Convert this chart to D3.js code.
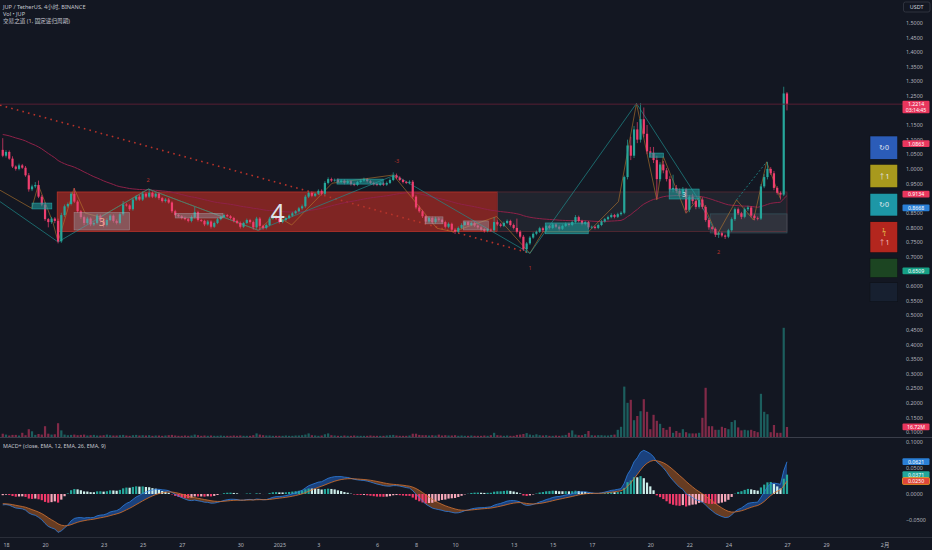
<!DOCTYPE html>
<html>
<head>
<meta charset="utf-8">
<script src="https://cdn.jsdelivr.net/npm/d3@7"></script>
<style>
html, body { margin: 0; padding: 0; background: #131722; }
svg { display: block; font-family: "Noto Sans", "Noto Sans CJK SC", sans-serif; }
</style>
</head>
<body>
<div id="chart"></div>
<script>
// 4h candles from 2024-12-17 20:00, prices in thousandths of USDT
const firstOpen = 1065;
const closes = [
  1045,1058,1035,1008,1000,1012,1004,978,930,940,
  945,905,878,828,818,830,822,752,842,872,
  880,915,888,855,835,815,830,810,815,840,
  822,808,825,840,822,815,845,878,875,862,
  895,905,895,915,905,918,905,915,900,890,
  895,885,855,842,838,832,828,822,835,852,
  825,822,810,820,802,815,828,835,842,838,
  832,822,815,802,815,825,818,800,830,805,
  798,808,830,838,830,818,825,832,840,848,
  855,865,872,905,918,908,915,925,915,952,
  965,960,963,955,960,952,958,948,945,955,
  960,965,958,952,948,945,950,946,952,962,
  978,970,962,955,952,956,905,868,855,838,
  820,832,818,830,826,818,802,812,792,785,
  798,808,818,808,815,806,800,793,788,792,
  790,818,810,805,815,822,808,798,785,768,
  725,745,765,778,785,797,790,805,798,810,
  802,795,805,812,808,818,835,822,812,818,
  800,802,798,808,820,828,835,842,836,845,
  850,972,1080,1045,1135,1100,1170,1120,1060,1055,
  1030,965,1015,995,965,930,935,925,915,930,
  860,905,890,870,895,870,825,800,795,775,
  780,772,768,790,828,862,848,836,862,868,
  840,832,830,940,972,1000,985,935,918,912,
  1258,1221
];
const upWick = [
  40,6,5,8,4,6,5,6,8,6,
  10,15,6,8,4,6,5,8,8,6,
  5,6,19,5,4,5,6,4,5,6,
  4,5,6,5,4,5,6,12,5,4,
  6,5,6,8,5,14,5,4,5,4,
  5,6,4,5,4,4,5,4,6,18,
  5,4,4,5,4,5,4,4,5,4,
  4,4,4,5,4,5,4,5,6,5,
  4,5,6,5,4,4,4,5,4,5,
  4,5,6,6,5,5,4,5,5,6,
  6,5,4,5,4,4,5,4,5,4,
  5,5,4,4,4,4,5,4,5,6,
  10,6,5,4,4,5,6,5,6,5,
  5,6,5,6,5,4,5,5,4,5,
  5,6,5,4,5,4,4,4,4,5,
  4,17,6,5,5,5,4,5,32,5,
  6,5,5,5,4,5,5,5,4,5,
  4,5,5,5,4,6,7,5,4,5,
  4,4,4,5,5,4,5,6,4,5,
  5,5,20,30,12,25,55,40,30,15,
  20,15,8,12,8,10,45,10,8,8,
  5,6,10,8,6,8,6,6,5,5,
  5,5,4,5,6,6,6,5,6,6,
  5,5,5,8,10,24,6,8,6,5,
  23,5
];
const downWick = [
  5,6,4,5,6,5,4,5,8,6,
  6,5,6,6,18,6,8,7,5,6,
  5,5,5,5,6,8,5,6,5,5,
  6,8,5,4,6,5,5,5,4,6,
  5,5,4,5,5,4,5,5,6,5,
  5,4,6,5,4,5,4,5,5,5,
  5,4,6,4,6,4,4,4,4,4,
  4,5,4,6,4,4,5,8,5,15,
  6,5,4,4,5,5,4,4,4,4,
  4,4,5,5,5,5,4,4,6,5,
  5,5,4,5,4,5,4,5,4,4,
  4,4,5,4,5,4,4,4,4,4,
  4,5,4,5,4,5,6,6,5,6,
  6,5,6,5,6,5,6,5,6,8,
  4,5,4,5,4,5,5,5,6,5,
  5,5,5,5,4,4,5,5,6,6,
  6,13,5,4,5,4,6,5,5,4,
  5,6,4,4,5,4,5,5,5,5,
  6,5,5,4,4,4,4,4,5,4,
  5,5,8,15,8,12,10,12,10,15,
  10,65,8,10,8,8,10,8,10,12,
  10,8,10,8,6,8,6,8,6,8,
  11,6,8,5,5,6,6,8,5,6,
  6,8,6,5,6,8,6,8,6,17,
  5,21
];
// volume in millions JUP
const volumes = [
  5.5,4,2.5,3.5,3.5,2.5,7,3,13,9.5,
  3.5,5,4,18,5.5,4,4.5,23,11,4,
  3,3.5,4,3,3.5,4,2.5,3,3.5,2.5,
  2.5,3,4,3,2.5,2.5,3,3.5,2.5,2,
  3,3.5,2.5,3,2.5,3,2,2.5,2.5,2,
  2.5,3,3.5,2.5,2,2,2.5,2,2.5,4,
  3,2,2.5,2,2.5,2,2,2.5,2,2,
  2,2.5,2,2.5,2,2,2,3,6,4,
  3,2.5,2.5,2,2,2,2,2.5,2,2,
  2.5,2.5,3,4,6,3,2.5,2,2.5,4.5,
  6,3,2.5,2,2,2.5,2,2,2.5,2,
  2,2,2,2.5,2,2,2,2,2.5,3,
  3.5,2.5,2,2,2,2.5,5.5,5.5,3.5,3,
  3,2.5,3,2.5,4,2.5,3,2.5,2.5,3,
  2,2.5,2,2,2.5,2,2,2,2.5,2,
  3,7,3,2.5,2,2.5,2,2,3.5,4,
  5,6.5,4,3,4.5,3,2.5,3,2,2,
  2.5,2,2.5,3.5,7,11,4,3,3,5,
  10,3,2.5,3,3,2.5,2.5,3.5,4,12,
  17,84,57,62,28,35,43,63,42,13,
  37,27,22,15,12,17,7,10,7,13,
  8,6,6,6,7,32,82,18,18,12,
  12,17,15,13,25,28,16,11,12,11,
  12,10,8,72,42,38,8,20,7,7,
  182,16.72
];

const maSeed = 1.12, maLength = 60;
const macdSeed = [1.075, 1.095, -0.018];

// zones: start, end, top, bottom
const zoneStart = ["2024-12-20 15:00", "2025-01-12 04:00", "2025-01-23 01:40"];
const zoneEnd   = ["2025-01-12 04:00", "2025-01-27 00:00", "2025-01-27 00:00"];
const zoneTop   = [0.921, 0.921, 0.846];
const zoneBot   = [0.786, 0.786, 0.781];
const zoneKind  = ["red", "grey", "inner"];

// consolidation boxes
const boxStart = ["2024-12-19 08:00","2024-12-21 11:40","2024-12-26 16:00","2025-01-03 22:50","2025-01-08 11:10","2025-01-10 10:00","2025-01-14 14:50","2025-01-19 22:50","2025-01-20 23:10"];
const boxEnd   = ["2024-12-20 08:20","2024-12-24 08:00","2024-12-29 02:40","2025-01-06 07:40","2025-01-09 09:10","2025-01-11 16:50","2025-01-16 19:40","2025-01-20 16:00","2025-01-22 12:00"];
const boxTop   = [0.883, 0.851, 0.848, 0.965, 0.836, 0.822, 0.815, 1.054, 0.931];
const boxBot   = [0.863, 0.791, 0.832, 0.948, 0.812, 0.791, 0.778, 1.040, 0.897];
const boxKind  = ["teal","grey","grey","teal","grey","grey","teal","teal","teal"];
const boxLabel = ["", "3", "", "", "", "", "", "", "3"];

// swing lines
const tealTime  = ["2024-12-17 16:40","2024-12-20 16:00","2024-12-25 07:00","2024-12-30 22:00","2025-01-06 22:00","2025-01-13 20:00","2025-01-19 07:00","2025-01-22 09:00","2025-01-23 10:00"];
const tealPrice = [0.888, 0.750, 0.931, 0.790, 0.979, 0.711, 1.224, 0.905, 0.774];
const tealDashTime  = ["2025-01-24 10:00", "2025-01-25 23:00"];
const tealDashPrice = [0.894, 1.024];
const orangeTime  = ["2024-12-17 16:40","2024-12-19 07:40","2024-12-19 15:40","2024-12-20 10:00","2024-12-20 16:00","2024-12-21 11:40","2024-12-22 01:10","2024-12-22 19:40","2024-12-24 04:20","2024-12-25 07:00","2024-12-30 22:00","2024-12-31 18:50","2025-01-01 15:10","2025-01-03 16:50","2025-01-06 20:00","2025-01-09 01:40","2025-01-09 21:40","2025-01-12 03:10","2025-01-13 20:00","2025-01-14 12:00","2025-01-16 20:00","2025-01-18 08:50","2025-01-19 07:00","2025-01-20 08:00","2025-01-20 16:00","2025-01-21 20:00","2025-01-22 13:00","2025-01-23 10:00","2025-01-24 10:00","2025-01-25 06:50","2025-01-25 23:00","2025-01-26 15:40"];
const orangePrice = [0.927,0.865,0.945,0.814,0.751,0.934,0.849,0.835,0.888,0.931,0.790,0.842,0.808,0.951,0.979,0.797,0.785,0.837,0.711,0.785,0.785,0.888,1.224,0.894,1.042,0.848,0.905,0.774,0.894,0.825,1.024,0.900];
const trendTime  = ["2024-12-17 16:40", "2025-01-13 20:00"];
const trendPrice = [1.218, 0.712];

// annotations
const noteText  = ["4", "2", "-3", "1", "2"];
const noteTime  = ["2024-12-31 22:00","2024-12-25 06:40","2025-01-07 00:20","2025-01-13 20:20","2025-01-23 12:00"];
const notePrice = [0.82, 0.956, 1.021, 0.653, 0.709];

// price scale
const priceTicks = [1.5,1.45,1.4,1.35,1.3,1.25,1.15,1.1,1.05,1.0,0.95,0.85,0.8,0.75,0.7,0.6,0.55,0.5,0.45,0.4,0.35,0.3,0.25,0.2,0.15,0.1];
const tagValue = [1.0863, 0.9134, 0.8668, 0.6509];
const tagColor = ["#e8365d", "#e8365d", "#2a7fd6", "#16a085"];
const lastPrice = 1.2214, countdown = "03:14:45", lastVolume = "16.72M";
const macdTicks = [0.1, 0.05, 0, -0.05];
const macdTagValue = [0.0621, 0.0371, 0.0250];
const timeTicks = ["2024-12-18","2024-12-20","2024-12-23","2024-12-25","2024-12-27","2024-12-30","2025-01-01","2025-01-03","2025-01-06","2025-01-08","2025-01-10","2025-01-13","2025-01-15","2025-01-17","2025-01-20","2025-01-22","2025-01-24","2025-01-27","2025-01-29","2025-02-01"];
const timeLabels = ["18","20","23","25","27","30","2025","3","6","8","10","13","15","17","20","22","24","27","29","2月"];

// status table on the right
const dashText  = ["↻0", "↑1", "↻0", "↑1", "", ""];
const dashColor = ["#2b5cb8", "#a8991d", "#1d97a6", "#b3261e", "#1c4522", "#172030"];

(function chart() {
  const width = 932, height = 550;
  const parse = d3.timeParse("%Y-%m-%d %H:%M");
  const t0 = parse("2024-12-17 20:00");
  const H4 = 4 * 3600 * 1000;
  const up = "#26a69a", down = "#ef3e6e";

  const svg = d3.select("#chart").append("svg")
    .attr("width", width).attr("height", height)
    .style("background", "#131722");

  const x = d3.scaleTime()
    .domain([parse("2024-12-18 00:00"), parse("2025-02-01 00:00")])
    .range([6, 884.6]);
  const y = d3.scaleLinear().domain([0.1, 1.5]).range([432, 22.7]);
  const yVol = d3.scaleLinear().domain([0, 200]).range([437, 317]);
  const yM = d3.scaleLinear().domain([-0.05, 0.1]).range([520, 442]);

  let prev = firstOpen;
  const candles = closes.map((c, k) => {
    const o = prev; prev = c;
    return {
      t: new Date(+t0 + k * H4), o: o / 1000, c: c / 1000,
      h: (Math.max(o, c) + upWick[k]) / 1000,
      l: (Math.min(o, c) - downWick[k]) / 1000,
      v: volumes[k]
    };
  });

  // EMA line and MACD
  let ma = maSeed;
  let e12 = macdSeed[0], e26 = macdSeed[1], sig = macdSeed[2];
  candles.forEach(d => {
    ma += (d.c - ma) * 2 / (maLength + 1);
    e12 += (d.c - e12) * 2 / 13;
    e26 += (d.c - e26) * 2 / 27;
    const m = e12 - e26;
    sig += (m - sig) * 0.2;
    d.ma = ma; d.macd = m; d.sig = sig; d.hist = m - sig;
  });

  const defs = svg.append("defs");
  defs.append("clipPath").attr("id", "mainClip")
    .append("rect").attr("x", 0).attr("y", 0).attr("width", 900).attr("height", 437);
  defs.append("clipPath").attr("id", "macdClip")
    .append("rect").attr("x", 0).attr("y", 438).attr("width", 900).attr("height", 99);

  const main = svg.append("g").attr("clip-path", "url(#mainClip)");

  // zones
  const zoneStyle = {
    red:   { fill: "rgba(205,48,36,0.58)", stroke: "#b8332a" },
    grey:  { fill: "rgba(120,123,134,0.13)", stroke: "#5a2a34" },
    inner: { fill: "rgba(120,123,134,0.18)", stroke: "#34505a" }
  };
  zoneStart.forEach((s, i) => {
    const st = zoneStyle[zoneKind[i]];
    main.append("rect")
      .attr("x", x(parse(s))).attr("y", y(zoneTop[i]))
      .attr("width", x(parse(zoneEnd[i])) - x(parse(s)))
      .attr("height", y(zoneBot[i]) - y(zoneTop[i]))
      .attr("fill", st.fill).attr("stroke", st.stroke).attr("stroke-width", 0.8);
  });

  // volume
  const bw = 2.2;
  main.append("g").selectAll("rect").data(candles).join("rect")
    .attr("x", d => x(d.t) - bw / 2)
    .attr("y", d => yVol(d.v))
    .attr("width", bw)
    .attr("height", d => yVol(0) - yVol(d.v))
    .attr("fill", d => d.c >= d.o ? "rgba(38,166,154,0.5)" : "rgba(239,62,110,0.5)");

  // trend line (dotted)
  main.append("path")
    .datum(trendTime.map((t, i) => [parse(t), trendPrice[i]]))
    .attr("d", d3.line().x(d => x(d[0])).y(d => y(d[1])))
    .attr("fill", "none").attr("stroke", "#b8332a")
    .attr("stroke-width", 1.6).attr("stroke-dasharray", "1.6,4.2");

  // EMA
  main.append("path").datum(candles)
    .attr("d", d3.line().x(d => x(d.t)).y(d => y(d.ma)))
    .attr("fill", "none").attr("stroke", "#8e2148").attr("stroke-width", 1);

  // swing lines
  const sw = d3.line().x(d => x(d[0])).y(d => y(d[1]));
  main.append("path")
    .datum(orangeTime.map((t, i) => [parse(t), orangePrice[i]]))
    .attr("d", sw).attr("fill", "none")
    .attr("stroke", "#b9782e").attr("stroke-opacity", 0.75).attr("stroke-width", 0.8);
  main.append("path")
    .datum(tealTime.map((t, i) => [parse(t), tealPrice[i]]))
    .attr("d", sw).attr("fill", "none")
    .attr("stroke", "#1f8f8f").attr("stroke-opacity", 0.85).attr("stroke-width", 0.8);
  main.append("path")
    .datum(tealDashTime.map((t, i) => [parse(t), tealDashPrice[i]]))
    .attr("d", sw).attr("fill", "none")
    .attr("stroke", "#1f8f8f").attr("stroke-width", 0.8).attr("stroke-dasharray", "2,2");

  // candles
  const cg = main.append("g");
  cg.selectAll("line").data(candles).join("line")
    .attr("x1", d => x(d.t)).attr("x2", d => x(d.t))
    .attr("y1", d => y(d.h)).attr("y2", d => y(d.l))
    .attr("stroke", d => d.c >= d.o ? up : down).attr("stroke-width", 0.7);
  cg.selectAll("rect").data(candles).join("rect")
    .attr("x", d => x(d.t) - bw / 2)
    .attr("y", d => y(Math.max(d.o, d.c)))
    .attr("width", bw)
    .attr("height", d => Math.max(0.7, Math.abs(y(d.o) - y(d.c))))
    .attr("fill", d => d.c >= d.o ? up : down);

  // boxes
  const boxStyle = {
    teal: { fill: "rgba(32,165,165,0.55)", stroke: "#27a9a9", text: "#d8eeee", size: 6.5 },
    grey: { fill: "rgba(150,152,165,0.42)", stroke: "rgba(180,180,190,0.55)", text: "#eea58c", size: 11 }
  };
  boxStart.forEach((s, i) => {
    const st = boxStyle[boxKind[i]];
    const x0 = x(parse(s)), x1 = x(parse(boxEnd[i]));
    const y0 = y(boxTop[i]), y1 = y(boxBot[i]);
    main.append("rect")
      .attr("x", x0).attr("y", y0).attr("width", x1 - x0).attr("height", y1 - y0)
      .attr("fill", st.fill).attr("stroke", st.stroke).attr("stroke-width", 0.6);
    if (boxLabel[i]) {
      main.append("text")
        .attr("x", (x0 + x1) / 2).attr("y", (y0 + y1) / 2)
        .attr("text-anchor", "middle").attr("dominant-baseline", "central")
        .attr("font-size", st.size).attr("fill", st.text)
        .text(boxLabel[i]);
    }
  });

  // annotations
  noteText.forEach((t, i) => {
    const big = i === 0;
    main.append("text")
      .attr("x", x(parse(noteTime[i]))).attr("y", y(notePrice[i]))
      .attr("text-anchor", "middle")
      .attr("font-size", big ? 25 : 5.5)
      .attr("fill", big ? "#dfe3ea" : "#b8332a")
      .text(t);
  });

  // last price line
  svg.append("line")
    .attr("x1", 0).attr("x2", 903)
    .attr("y1", y(lastPrice)).attr("y2", y(lastPrice))
    .attr("stroke", "#5e2036").attr("stroke-width", 0.9);

  // MACD pane
  const mg = svg.append("g").attr("clip-path", "url(#macdClip)");
  defs.append("clipPath").attr("id", "sigAbove").append("path")
    .datum(candles).attr("d", d3.area().x(d => x(d.t)).y0(438).y1(d => yM(d.sig)));
  defs.append("clipPath").attr("id", "sigBelow").append("path")
    .datum(candles).attr("d", d3.area().x(d => x(d.t)).y0(537).y1(d => yM(d.sig)));
  const band = d3.area().x(d => x(d.t)).y0(d => yM(d.sig)).y1(d => yM(d.macd));
  mg.append("path").datum(candles).attr("d", band)
    .attr("fill", "rgba(33,100,200,0.55)").attr("clip-path", "url(#sigAbove)");
  mg.append("path").datum(candles).attr("d", band)
    .attr("fill", "rgba(160,85,35,0.6)").attr("clip-path", "url(#sigBelow)");

  mg.append("g").selectAll("rect").data(candles).join("rect")
    .attr("x", d => x(d.t) - bw / 2)
    .attr("y", d => Math.min(yM(0), yM(d.hist)))
    .attr("width", bw)
    .attr("height", d => Math.abs(yM(d.hist) - yM(0)))
    .attr("fill", (d, i) => {
      const p = i > 0 ? candles[i - 1].hist : d.hist;
      if (d.hist >= 0) return d.hist >= p ? "#26a69a" : "#cdeeea";
      return d.hist < p ? "#f23a6a" : "#f7a8ba";
    });
  mg.append("path").datum(candles)
    .attr("d", d3.line().x(d => x(d.t)).y(d => yM(d.macd)))
    .attr("fill", "none").attr("stroke", "#2f7fe0").attr("stroke-width", 0.8);
  mg.append("path").datum(candles)
    .attr("d", d3.line().x(d => x(d.t)).y(d => yM(d.sig)))
    .attr("fill", "none").attr("stroke", "#d8732e").attr("stroke-width", 0.8);

  // separators
  svg.append("line").attr("x1", 0).attr("x2", width).attr("y1", 437.5).attr("y2", 437.5)
    .attr("stroke", "#3a3e4a").attr("stroke-width", 1);
  svg.append("line").attr("x1", 0).attr("x2", width).attr("y1", 537.5).attr("y2", 537.5)
    .attr("stroke", "#2a2e39").attr("stroke-width", 1);

  // axes
  const styleAxis = g => {
    g.select(".domain").remove();
    g.selectAll("text").attr("fill", "#b2b5be").attr("font-size", 5.4)
      .attr("font-family", "\"Noto Sans\", \"Noto Sans CJK SC\", sans-serif");
  };
  svg.append("g").attr("transform", "translate(903,0)")
    .call(d3.axisRight(y).tickValues(priceTicks).tickSize(0).tickPadding(3)
      .tickFormat(d3.format(".4f")))
    .call(styleAxis);
  svg.append("g").attr("transform", "translate(903,0)")
    .call(d3.axisRight(yM).tickValues(macdTicks).tickSize(0).tickPadding(3)
      .tickFormat(d3.format(".4f")))
    .call(styleAxis);
  svg.append("g").attr("transform", "translate(0,539)")
    .call(d3.axisBottom(x).tickValues(timeTicks.map(s => d3.timeParse("%Y-%m-%d")(s)))
      .tickSize(0).tickPadding(4).tickFormat((d, i) => timeLabels[i]))
    .call(styleAxis);

  // axis tags
  const tag = (yy, txt, fill, stroke) => {
    svg.append("rect").attr("x", 902.5).attr("y", yy - 3.4).attr("width", 27).attr("height", 6.8)
      .attr("rx", 1).attr("fill", fill).attr("stroke", stroke || "none").attr("stroke-width", 0.8);
    svg.append("text").attr("x", 916).attr("y", yy).attr("text-anchor", "middle")
      .attr("dominant-baseline", "central").attr("font-size", 5.2).attr("fill", "#ffffff").text(txt);
  };
  tagValue.forEach((v, i) => tag(y(v), v.toFixed(4), tagColor[i]));
  const ly = y(lastPrice);
  svg.append("rect").attr("x", 902.5).attr("y", ly - 3.5).attr("width", 27).attr("height", 12.5)
    .attr("rx", 1).attr("fill", "#e8365d");
  svg.append("text").attr("x", 916).attr("y", ly + 1.6).attr("text-anchor", "middle")
    .attr("font-size", 5.2).attr("fill", "#fff").text(lastPrice.toFixed(4));
  svg.append("text").attr("x", 916).attr("y", ly + 7.6).attr("text-anchor", "middle")
    .attr("font-size", 5.2).attr("fill", "#fff").text(countdown);
  tag(yVol(16.72), lastVolume, "#e8365d");
  tag(yM(macdTagValue[0]), macdTagValue[0].toFixed(4), "#2a7fd6");
  tag(yM(macdTagValue[1]), macdTagValue[1].toFixed(4), "#22a69a");
  tag(yM(macdTagValue[2]), macdTagValue[2].toFixed(4), "#e0463a", "#f0a020");

  // USDT box
  svg.append("rect").attr("x", 903.5).attr("y", 2).attr("width", 26.5).attr("height", 10)
    .attr("rx", 2).attr("fill", "none").attr("stroke", "#363a45").attr("stroke-width", 0.8);
  svg.append("text").attr("x", 916.7).attr("y", 7).attr("text-anchor", "middle")
    .attr("dominant-baseline", "central").attr("font-size", 5.4).attr("fill", "#d1d4dc").text("USDT");

  // status table
  const dashTop = [136, 164.3, 193.3, 221.7, 258.3, 282.7];
  const dashH = [23.3, 23.4, 22.7, 31, 19.4, 19];
  dashColor.forEach((c, i) => {
    svg.append("rect").attr("x", 870).attr("y", dashTop[i]).attr("width", 27.7).attr("height", dashH[i])
      .attr("fill", c).attr("stroke", "#0e1118").attr("stroke-width", 0.6);
    if (dashText[i]) {
      const ty = i === 3 ? dashTop[i] + 21 : dashTop[i] + dashH[i] / 2;
      svg.append("text").attr("x", 884).attr("y", ty).attr("text-anchor", "middle")
        .attr("dominant-baseline", "central").attr("font-size", 7)
        .attr("fill", i === 3 ? "#f6c1c1" : "#e6eaf0").text(dashText[i]);
    }
  });
  svg.append("text").attr("x", 884).attr("y", dashTop[3] + 10).attr("text-anchor", "middle")
    .attr("dominant-baseline", "central").attr("font-size", 6.5).attr("fill", "#e7c24a").text("ϟ");

  // titles
  const titles = ["JUP / TetherUS, 4小时, BINANCE", "Vol • JUP", "交易之道 (1, 固定递归周期)"];
  titles.forEach((t, i) => {
    svg.append("text").attr("x", 3).attr("y", 9 + i * 6.8)
      .attr("font-size", 5.6).attr("fill", "#c3c6ce").text(t);
  });
  svg.append("text").attr("x", 3).attr("y", 447.5)
    .attr("font-size", 5.4).attr("fill", "#c3c6ce").text("MACD+ (close, EMA, 12, EMA, 26, EMA, 9)");
})();
</script>
</body>
</html>
